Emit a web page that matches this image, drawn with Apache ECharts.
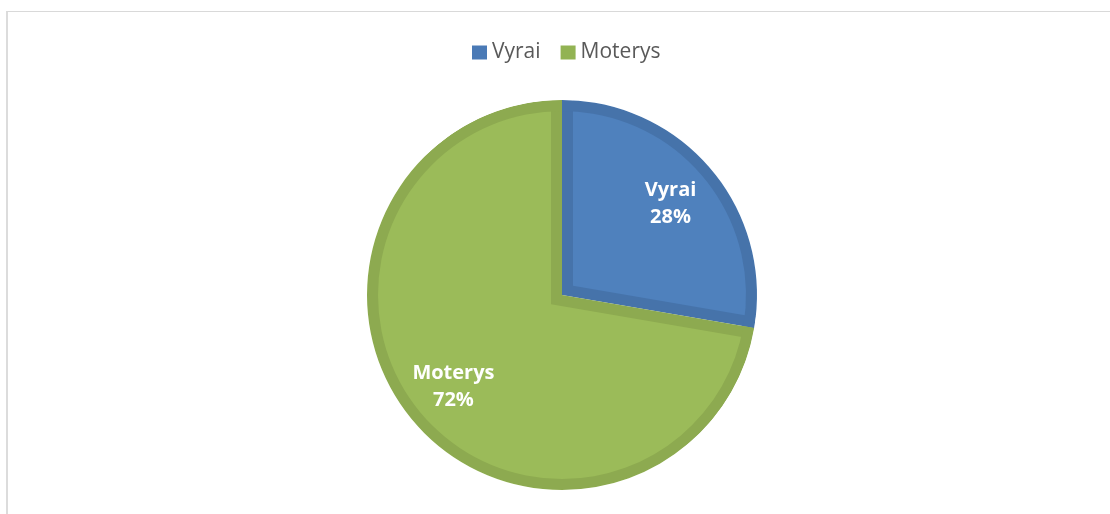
<!DOCTYPE html>
<html>
<head>
<meta charset="utf-8">
<script src="https://cdn.jsdelivr.net/npm/echarts@6/dist/echarts.min.js"></script>
<style>
  html, body { margin: 0; padding: 0; background: #ffffff; overflow: hidden; }
  #wrap { position: relative; width: 1110px; height: 514px; overflow: hidden; }
  #frame { position: absolute; left: 6px; top: 11px; width: 1300px; height: 700px;
           border-left: 2px solid #dcdcdc; border-top: 1px solid #d9d9d9; box-sizing: border-box; }
  #chart { position: absolute; left: 0; top: 0; width: 1110px; height: 514px; }
</style>
</head>
<body>
<div id="wrap">
  <div id="frame"></div>
  <div id="chart"></div>
</div>
<script>
// ---- data ----
const categories = ['Vyrai', 'Moterys'];
const values = [27.7, 72.3];

// ---- styles ----
const lightColors = ['#4F81BD', '#9BBB59'];
const darkColors = ['#4673AA', '#8DAA50'];
const legendColors = ['#4A7AB6', '#92B353'];
const cx = 562, cy = 295, R = 195, band = 11;
const FONT = 'Open Sans';

const total = values.reduce((a, b) => a + b, 0);
const mids = [], halfs = [];
let cum = 0;
values.forEach(v => {
  const f = v / total;
  mids.push(90 - 360 * (cum + f / 2));
  halfs.push(180 * f);
  cum += f;
});

function dataWith(colors) {
  return categories.map((c, i) => ({ name: c, value: values[i], itemStyle: { color: colors[i] } }));
}

const common = {
  type: 'pie',
  startAngle: 90,
  clockwise: true,
  silent: true,
  animation: false,
  avoidLabelOverlap: false,
  percentPrecision: 0,
  label: { show: false },
  labelLine: { show: false },
  emphasis: { disabled: true },
  itemStyle: { borderWidth: 0 }
};

const series = [];
// base: full slices in dark (band) colour
series.push(Object.assign({}, common, {
  name: 'base', z: 1, center: [cx, cy], radius: [0, R], data: dataWith(darkColors)
}));
// inset light fills, one per slice, centre shifted along the slice bisector
categories.forEach((c, i) => {
  const off = band / Math.sin(halfs[i] * Math.PI / 180);
  const a = mids[i] * Math.PI / 180;
  const colors = categories.map((_, j) => j === i ? lightColors[j] : 'rgba(0,0,0,0)');
  series.push(Object.assign({}, common, {
    name: 'inset' + i, z: 2,
    center: [cx + off * Math.cos(a), cy - off * Math.sin(a)],
    radius: [0, R],
    data: dataWith(colors)
  }));
});
// outer band ring
series.push(Object.assign({}, common, {
  name: 'ring', z: 3, center: [cx, cy], radius: [R - band, R], data: dataWith(darkColors)
}));
// white mask outside the disc
series.push(Object.assign({}, common, {
  name: 'mask', z: 4, center: [cx, cy], radius: [R, R + 22],
  data: dataWith(['#ffffff', '#ffffff'])
}));
// labels
series.push(Object.assign({}, common, {
  name: 'labels', z: 5, center: [cx, cy], radius: [88, 190],
  data: dataWith(['rgba(0,0,0,0)', 'rgba(0,0,0,0)']),
  label: {
    show: true, position: 'inside',
    formatter: '{b}\n{d}%',
    color: '#ffffff', fontFamily: FONT, fontWeight: 'bold', fontSize: 20, lineHeight: 27
  }
}));

const chart = echarts.init(document.getElementById('chart'), null, { renderer: 'canvas' });
chart.setOption({
  backgroundColor: 'transparent',
  animation: false,
  legend: {
    data: categories.map((c, i) => ({ name: c, itemStyle: { color: legendColors[i] } })),
    left: 472, top: 42,
    icon: 'rect', itemWidth: 15, itemHeight: 14, itemGap: 20,
    padding: 0,
    selectedMode: false,
    textStyle: { color: '#595959', fontFamily: FONT, fontSize: 21 }
  },
  series: series
});
</script>
</body>
</html>
